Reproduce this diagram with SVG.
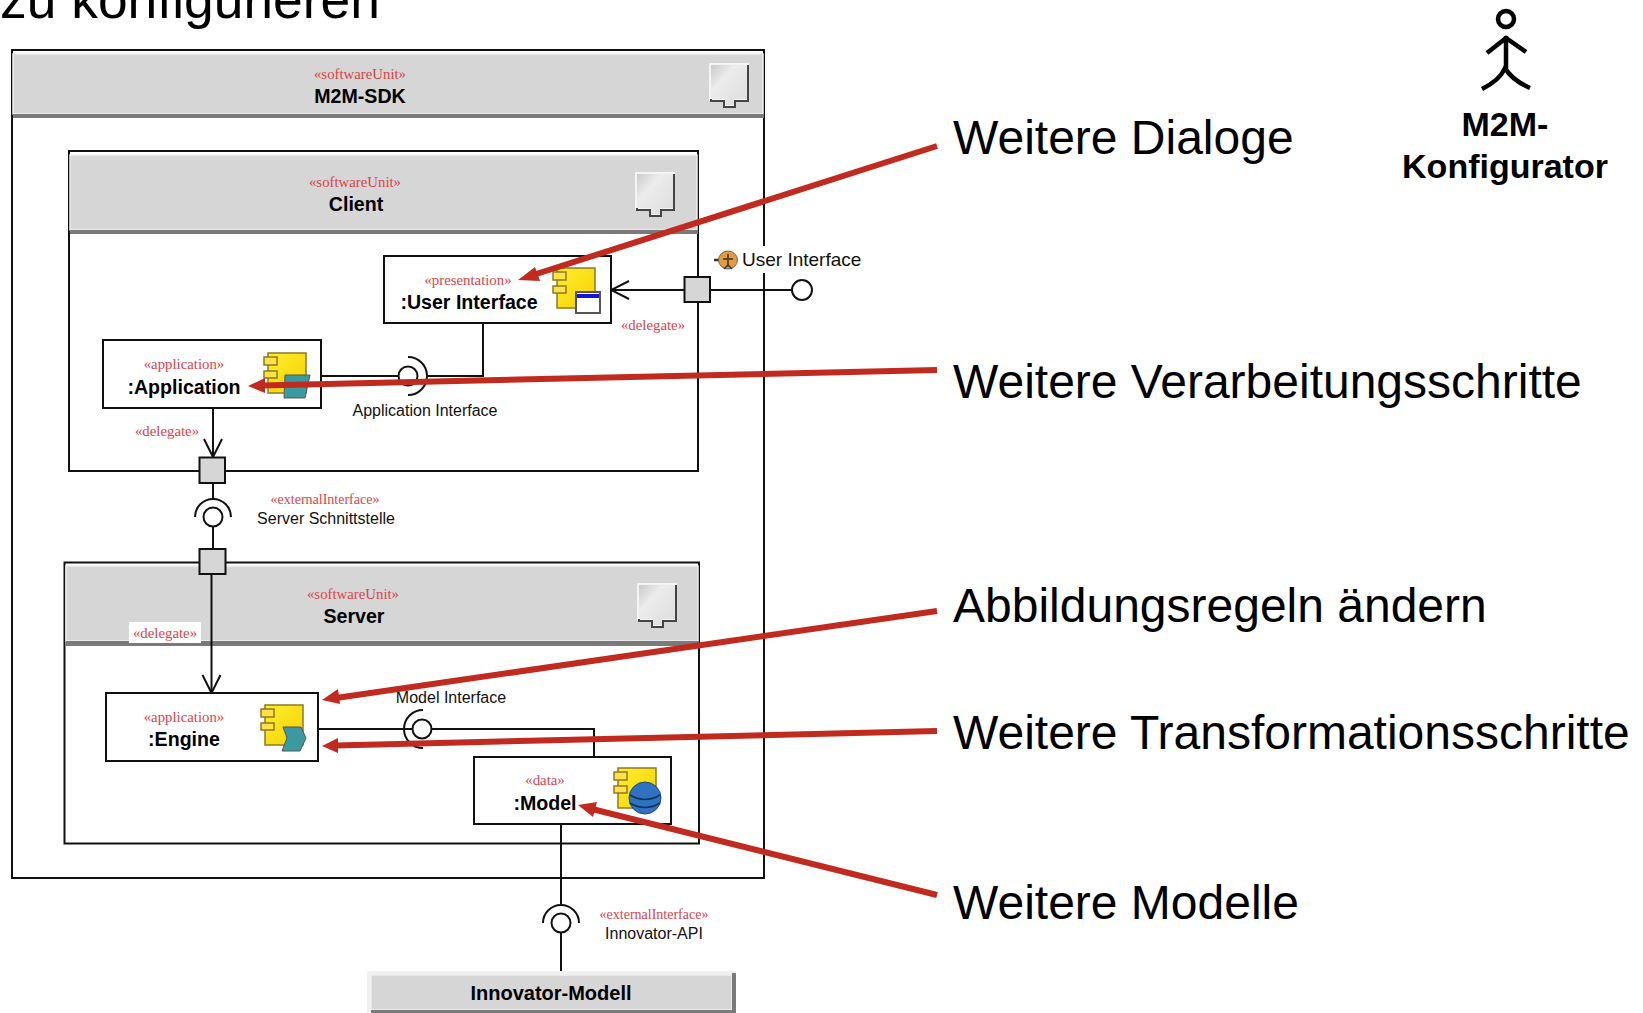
<svg xmlns="http://www.w3.org/2000/svg" width="1643" height="1013" viewBox="0 0 1643 1013">
<style>
.s{font-family:"Liberation Serif",serif;font-size:14.8px;fill:#d9444a;text-anchor:middle}
.e{font-size:14px}
.n{font-family:"Liberation Sans",Arial,sans-serif;font-size:19.6px;font-weight:700;fill:#000;text-anchor:middle}
.l{font-family:"Liberation Sans",Arial,sans-serif;font-size:16px;fill:#111;text-anchor:middle}
.b{font-family:"Liberation Sans",Arial,sans-serif;font-size:48px;fill:#000}
.k{font-family:"Liberation Sans",Arial,sans-serif;font-size:34px;font-weight:700;fill:#000;text-anchor:middle}
.box{fill:#fff;stroke:#111;stroke-width:2}
.thin{fill:none;stroke:#111;stroke-width:2}
.port{fill:#d6d6d6;stroke:#111;stroke-width:2}
.head{fill:#d6d6d6;stroke:#eeeeee;stroke-width:1.5}
.bar{fill:#7a7a7a}
.red{fill:none;stroke:#c12a1e;stroke-width:6}
.redh{fill:#c12a1e}
.ball{fill:#fff;stroke:#111;stroke-width:2}
</style>
<defs>
<marker id="open" markerUnits="userSpaceOnUse" viewBox="0 0 22 24" markerWidth="22" markerHeight="24" refX="21" refY="12" orient="auto"><path d="M3 3 L21 12 L3 21" fill="none" stroke="#111" stroke-width="2"/></marker>
<linearGradient id="ug" x1="0" y1="0" x2="1" y2="1"><stop offset="0" stop-color="#c8c8c8"/><stop offset=".35" stop-color="#ececec"/><stop offset="1" stop-color="#dcdcdc"/></linearGradient>
<linearGradient id="yg" x1="0" y1="0" x2="1" y2="1"><stop offset="0" stop-color="#ffee30"/><stop offset="1" stop-color="#f5d000"/></linearGradient>
<g id="unit">
<path d="M1 1 H39 V37 H26 V43 H15 V37 H1 Z" fill="url(#ug)" stroke="#f4f4f4" stroke-width="2"/>
<path d="M2 36 V38 H15 V44 H26 V38 H39 V2" fill="none" stroke="#444" stroke-width="2"/>
</g>
<g id="comp">
<rect x="4" y="1" width="38" height="40" fill="url(#yg)" stroke="#8f7a20" stroke-width="1.5"/>
<rect x="0" y="5" width="13" height="8" fill="#ffe14a" stroke="#8f7a20" stroke-width="1.5"/>
<rect x="0" y="19" width="13" height="7" fill="#ffe14a" stroke="#8f7a20" stroke-width="1.5"/>
</g>
</defs>
<rect width="1643" height="1013" fill="#fff"/>
<text x="0" y="18" font-family="Liberation Sans, Arial, sans-serif" font-size="53.4" fill="#000">zu konfigurieren</text>

<g id="m2m-sdk">
<rect class="box" x="12" y="50" width="752" height="828"/>
<rect class="head" x="13" y="54" width="750" height="60"/>
<rect class="bar" x="13" y="114" width="751" height="4"/>
<text class="s" x="360" y="79">«softwareUnit»</text>
<text class="n" x="360" y="103">M2M-SDK</text>
<use href="#unit" x="709" y="63"/>
</g>

<g id="client">
<rect class="box" x="69" y="151" width="629" height="320"/>
<rect class="head" x="70" y="155" width="627" height="75"/>
<rect class="bar" x="70" y="230" width="628" height="4"/>
<text class="s" x="355" y="187">«softwareUnit»</text>
<text class="n" x="356" y="211">Client</text>
<use href="#unit" x="635" y="172"/>
</g>

<g id="server">
<rect class="box" x="64.500" y="562.500" width="634.500" height="281"/>
<rect class="head" x="66" y="566" width="632" height="75"/>
<rect class="bar" x="66" y="641" width="633" height="5"/>
<text class="s" x="353" y="599">«softwareUnit»</text>
<text class="n" x="354" y="623">Server</text>
<use href="#unit" x="637" y="583"/>
</g>

<g id="user-interface">
<rect class="box" x="384" y="256" width="227" height="67"/>
<text class="s" x="468" y="285">«presentation»</text>
<text class="n" x="469" y="309">:User Interface</text>
<use href="#comp" x="553" y="267"/>
<rect x="576" y="292" width="24" height="21" fill="#fff" stroke="#555" stroke-width="2"/>
<rect x="577" y="294" width="22" height="4" fill="#1414e0"/>
</g>

<g id="application">
<rect class="box" x="103" y="340" width="218" height="68"/>
<text class="s" x="184" y="369">«application»</text>
<text class="n" x="184" y="394">:Application</text>
<use href="#comp" x="264" y="352"/>
<path d="M285 375 H310 L305 398 H284 Z" fill="#3b9aa0" stroke="#555"/>
</g>

<g id="engine">
<rect class="box" x="106" y="693" width="212" height="68"/>
<text class="s" x="184" y="722">«application»</text>
<text class="n" x="184" y="746">:Engine</text>
<use href="#comp" x="261" y="704"/>
<path d="M283 727 H301 L306 738 L300 751 H282 L287 738 Z" fill="#3b9aa0" stroke="#555"/>
</g>

<g id="model">
<rect class="box" x="474" y="757" width="197" height="67"/>
<text class="s" x="545" y="785">«data»</text>
<text class="n" x="545" y="810">:Model</text>
<use href="#comp" x="614" y="767"/>
<ellipse cx="645" cy="798" rx="16" ry="16" fill="#2f72c0" stroke="#1c4a80"/>
<path d="M630 795 Q645 804 660 795 M630 803 Q645 812 660 803" fill="none" stroke="#12325c" stroke-width="1.500"/>
</g>

<g id="innovator-modell">
<rect x="367" y="971" width="369" height="42" fill="#f0f0f0"/>
<rect class="head" x="371" y="975" width="361" height="35"/>
<rect class="bar" x="732" y="973" width="4" height="40"/>
<rect class="bar" x="371" y="1010" width="365" height="3"/>
<text class="n" x="551" y="1000" style="font-size:20px">Innovator-Modell</text>
</g>

<g id="connectors">
<path class="thin" d="M684 290 H611" marker-end="url(#open)"/>
<path class="thin" d="M710 290 H792"/>
<circle class="ball" cx="802" cy="290" r="10"/>
<path class="thin" d="M213 408 V457" marker-end="url(#open)"/>
<path class="thin" d="M213 483 V499"/>
<path class="thin" d="M195 517 A18 18 0 0 1 231 517"/>
<circle class="ball" cx="213" cy="517" r="9.500"/>
<path class="thin" d="M213 527 V549"/>
<path class="thin" d="M211.500 574 V693" marker-end="url(#open)"/>
<path class="thin" d="M321 376 H399"/>
<path class="thin" d="M408 357 A19 19 0 0 1 408 395"/>
<circle class="ball" cx="408" cy="376" r="9.500"/>
<path class="thin" d="M427 376 H483 V323"/>
<path class="thin" d="M318 729 H414"/>
<path class="thin" d="M423 710 A19 19 0 0 0 423 748"/>
<circle class="ball" cx="422" cy="729" r="9.500"/>
<path class="thin" d="M432 729 H594 V757"/>
<path class="thin" d="M561 824 V905"/>
<path class="thin" d="M543 923 A18 18 0 0 1 579 923"/>
<circle class="ball" cx="561" cy="923" r="9.500"/>
<path class="thin" d="M561 933 V971"/>
</g>

<g id="ports">
<rect class="port" x="684.500" y="277" width="25.500" height="25"/>
<rect class="port" x="199.500" y="457.500" width="25.500" height="25.500"/>
<rect class="port" x="199.500" y="549" width="26" height="25"/>
</g>

<g id="labels">
<rect x="712" y="246" width="154" height="27" fill="#fff"/>
<path d="M714 260 H722" stroke="#333" stroke-width="2.500" fill="none"/>
<ellipse cx="728" cy="260" rx="9.500" ry="9" fill="#e59a3c" stroke="#666"/>
<path d="M728 254 V266 M723 259 H733 M728 265 L724 269 M728 265 L732 269" stroke="#333" stroke-width="1.500" fill="none"/>
<text x="742" y="266" font-family="Liberation Sans, Arial, sans-serif" font-size="19" fill="#111">User Interface</text>
<text class="s" x="653" y="330">«delegate»</text>
<text class="l" x="425" y="416">Application Interface</text>
<text class="s" x="167" y="436">«delegate»</text>
<text class="s e" x="325" y="504">«externalInterface»</text>
<text class="l" x="326" y="523.500">Server Schnittstelle</text>
<rect x="129" y="622" width="72" height="21" fill="#fff"/>
<text class="s" x="165" y="638">«delegate»</text>
<text class="l" x="451" y="702.500">Model Interface</text>
<text class="s e" x="654" y="919">«externalInterface»</text>
<text class="l" x="654" y="939">Innovator-API</text>
</g>

<g id="actor">
<circle cx="1506" cy="19" r="8" fill="none" stroke="#000" stroke-width="4.500"/>
<path d="M1506 36 V68 M1487 53 L1506 38 L1526 52 M1482 89 Q1500 80 1505 68 Q1512 80 1530 88" fill="none" stroke="#000" stroke-width="4.500"/>
<text class="k" x="1505" y="136">M2M-</text>
<text class="k" x="1505" y="178">Konfigurator</text>
</g>

<g id="callouts">
<path class="red" d="M937 146 L530 276"/><path class="redh" d="M518 280 L535 267 L540 281 Z"/>
<path class="red" d="M937 370 L262 385.500"/><path class="redh" d="M248 386 L265 378 L265 393 Z"/>
<path class="red" d="M937 611 L336 698"/><path class="redh" d="M322 700 L338 689 L340 704 Z"/>
<path class="red" d="M937 731 L336 745.500"/><path class="redh" d="M322 746 L338 738 L338 753 Z"/>
<path class="red" d="M937 895 L592 809"/><path class="redh" d="M578 805 L597 802 L593 817 Z"/>
<text class="b" x="953" y="154">Weitere Dialoge</text>
<text class="b" x="953" y="398">Weitere Verarbeitungsschritte</text>
<text class="b" x="953" y="622">Abbildungsregeln ändern</text>
<text class="b" x="953" y="749">Weitere Transformationsschritte</text>
<text class="b" x="953" y="919">Weitere Modelle</text>
</g>
</svg>
